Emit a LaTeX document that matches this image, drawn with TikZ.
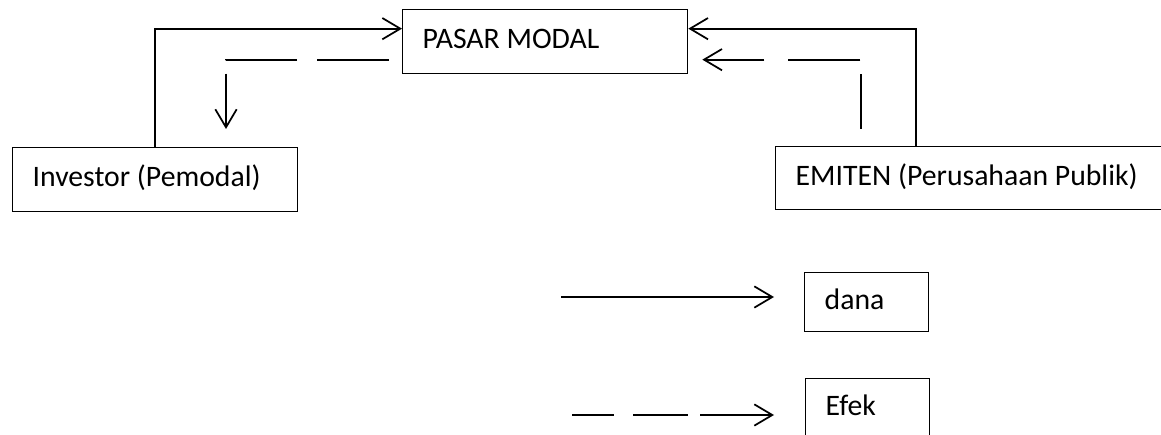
\documentclass[tikz,border=0pt]{standalone}
\usepackage{fontspec}
\setmainfont{Carlito}
\usetikzlibrary{arrows.meta}

\begin{document}
\begin{tikzpicture}[
  x=0.75pt, y=-0.75pt,
  >={Straight Barb[length=13.5pt,width=16pt]},
  mynode/.style={draw,line width=1pt,anchor=north west,align=flush left,inner xsep=15pt,inner ysep=0pt,
    text height=16.7pt,text depth=6.2pt,font=\fontsize{22.3}{27}\selectfont},
  danaline/.style={->,line width=1.3pt},
  efekline/.style={->,line width=1.3pt}
]
\useasboundingbox (0,0) rectangle (1161,435);
\clip (0,0) rectangle (1161,435);

% the three parties
\node[mynode,text width=183.75pt,minimum height=48pt] (pasar) at (402,9) {PASAR MODAL};
\node[mynode,text width=183.75pt,minimum height=48pt] (inv) at (12,147) {Investor (Pemodal)};
\node[mynode,text width=270pt,minimum height=47.25pt] (emiten) at (775,146) {EMITEN (Perusahaan Publik)};

% legend
\node[mynode,text width=63pt,minimum height=44.25pt] (dana) at (804,272) {dana};
\node[mynode,text width=63pt,minimum height=44.25pt] (efek) at (805,378) {Efek};
\coordinate (danaFrom) at (561,297);
\coordinate (efekFrom) at (572,415);

% dana flows
\draw[danaline] (inv.north) |- ([yshift=9.75pt]pasar.west);
\draw[danaline] ([xshift=105.75pt]emiten.north west) |- ([yshift=9.75pt]pasar.east);

% efek flows
\draw[efekline,shorten >=13.5pt,dash pattern=on 0pt off 9.75pt on 54pt off 15pt on 53.25pt off 10.5pt on 60pt]
  ([yshift=-13.5pt]pasar.west) -| ([xshift=160.5pt]inv.north west);
\draw[efekline,shorten >=10.5pt,dash pattern=on 0pt off 12.75pt on 41.25pt off 11.25pt on 54pt off 18pt on 60pt]
  ([xshift=64.5pt]emiten.north west) |- ([yshift=-13.5pt]pasar.east);

\draw[danaline,shorten >=22.5pt] (danaFrom) -- (danaFrom -| dana.west);
\draw[efekline,shorten >=23.25pt,dash pattern=on 31.5pt off 14.25pt on 41.25pt off 9pt on 60pt]
  (efekFrom) -- (efekFrom -| efek.west);
\end{tikzpicture}
\end{document}
